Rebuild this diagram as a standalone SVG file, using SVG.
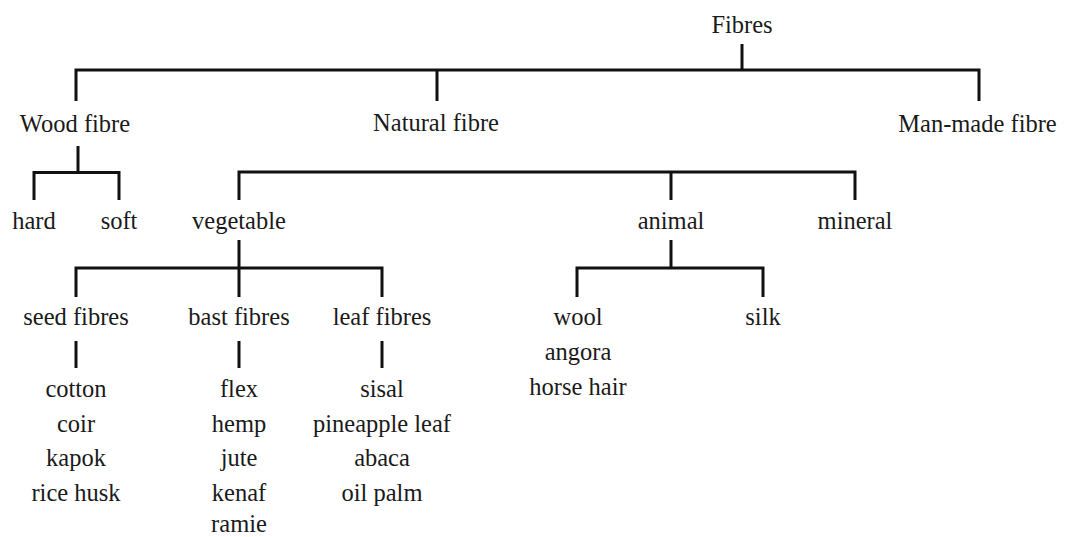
<svg xmlns="http://www.w3.org/2000/svg" width="1071" height="537" viewBox="0 0 1071 537">
<style>
text{font-family:"Liberation Serif","Times New Roman",serif;font-size:24.5px;fill:#1a1a1a;text-anchor:middle}
.c path{fill:none;stroke:#111;stroke-width:3;stroke-linecap:butt;stroke-linejoin:miter}
</style>
<rect width="1071" height="537" fill="#fff"/>
<g class="c" id="connectors">
<path d="M742,44V70"/>
<path d="M76,101V70H979V101"/>
<path d="M437,70V101"/>
<path d="M78,146V172.5"/>
<path d="M34,200V172.5H119V200"/>
<path d="M239,200V172H855V200"/>
<path d="M671,172V200"/>
<path d="M239,240V297"/>
<path d="M76,297V268H382V297"/>
<path d="M671,240V268"/>
<path d="M577,297V268H763V297"/>
<path d="M76,341V368"/>
<path d="M239,341V368"/>
<path d="M382,341V368"/>
</g>
<g id="n-fibres"><text x="742" y="32.5">Fibres</text></g>
<g id="n-wood"><text x="75" y="132">Wood fibre</text></g>
<g id="n-natural"><text x="436" y="131">Natural fibre</text></g>
<g id="n-manmade"><text x="977.5" y="131.5">Man-made fibre</text></g>
<g id="n-hard"><text x="34" y="228.5">hard</text></g>
<g id="n-soft"><text x="119" y="228.5">soft</text></g>
<g id="n-vegetable"><text x="239" y="228.5">vegetable</text></g>
<g id="n-animal"><text x="671" y="229">animal</text></g>
<g id="n-mineral"><text x="855" y="229">mineral</text></g>
<g id="n-seed"><text x="76" y="325">seed fibres</text></g>
<g id="n-bast"><text x="239" y="325">bast fibres</text></g>
<g id="n-leaf"><text x="382" y="325">leaf fibres</text></g>
<g id="n-wool"><text x="578" y="325">wool</text><text x="578" y="360">angora</text><text x="578" y="395">horse hair</text></g>
<g id="n-silk"><text x="763" y="325">silk</text></g>
<g id="n-seed-list"><text x="76" y="396.5">cotton</text><text x="76" y="431.5">coir</text><text x="76" y="466">kapok</text><text x="76" y="500.5">rice husk</text></g>
<g id="n-bast-list"><text x="239" y="396.5">flex</text><text x="239" y="431.5">hemp</text><text x="239" y="466">jute</text><text x="239" y="500.5">kenaf</text><text x="239" y="532">ramie</text></g>
<g id="n-leaf-list"><text x="382" y="396.5">sisal</text><text x="382" y="431.5">pineapple leaf</text><text x="382" y="466">abaca</text><text x="382" y="500.5">oil palm</text></g>
</svg>
